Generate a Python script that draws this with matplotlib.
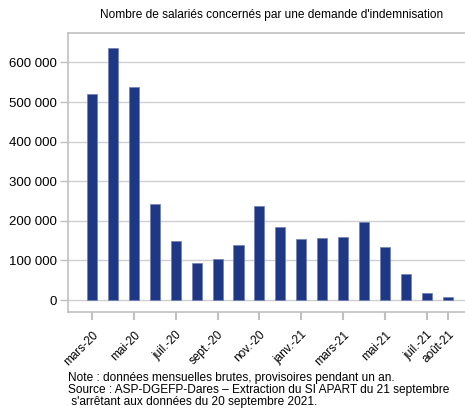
import matplotlib
matplotlib.use("Agg")
import matplotlib.pyplot as plt
from matplotlib.ticker import FuncFormatter

months = ["mars-20", "avr.-20", "mai-20", "juin-20", "juil.-20", "août-20", "sept.-20",
          "oct.-20", "nov.-20", "déc.-20", "janv.-21", "févr.-21", "mars-21", "avr.-21",
          "mai-21", "juin-21", "juil.-21", "août-21"]
values = [520000, 637000, 537000, 243000, 149000, 94000, 103000, 138000, 237000,
          184000, 154000, 156000, 159000, 196000, 135000, 65000, 19000, 8000]
shown_labels = ["mars-20", "mai-20", "juil.-20", "sept.-20", "nov.-20", "janv.-21",
                "mars-21", "mai-21", "juil.-21", "août-21"]
yticks = [0, 100000, 200000, 300000, 400000, 500000, 600000]

plt.rcParams['font.family'] = ['Liberation Sans', 'DejaVu Sans']

fig = plt.figure(figsize=(4.65, 4.09), dpi=100)
ax = fig.add_axes([0.146, 0.237, 0.854, 0.682])

x = list(range(len(months)))
ax.bar(x, values, width=0.48, color="#1F3885", edgecolor="#6f7fb5", linewidth=0.5, zorder=3)

ax.set_xlim(-1.15, 17.82)
ax.set_ylim(-30300, 674000)

ax.set_yticks(yticks)
ax.yaxis.set_major_formatter(FuncFormatter(lambda v, p: f"{int(v):,}".replace(",", " ")))
ax.grid(axis="y", color="#d0d0d0", linewidth=1, zorder=0)
ax.tick_params(axis="y", length=6, color="#c0c0c0", labelsize=9.5, pad=2, width=1)

pos = [months.index(m) for m in shown_labels]
ax.set_xticks(pos)
ax.set_xticklabels(shown_labels, rotation=45, ha="right", rotation_mode="anchor", fontsize=8.5)
ax.tick_params(axis="x", length=6, color="#c0c0c0", width=1.5, pad=6)

for s in ["left", "top", "bottom"]:
    ax.spines[s].set_color("#c0c0c0")
    ax.spines[s].set_linewidth(1.2)
ax.spines["right"].set_visible(False)

fig.text(0.585, 0.963, "Nombre de salariés concernés par une demande d'indemnisation",
         ha="center", va="center", fontsize=8.6)

fig.text(0.146, 0.076, "Note : données mensuelles brutes, provisoires pendant un an.",
         ha="left", va="center", fontsize=8.6)
fig.text(0.146, 0.046, "Source : ASP-DGEFP-Dares – Extraction du SI APART du 21 septembre",
         ha="left", va="center", fontsize=8.6)
fig.text(0.146, 0.017, " s'arrêtant aux données du 20 septembre 2021.",
         ha="left", va="center", fontsize=8.6)

fig.savefig("out.png", dpi=100)
